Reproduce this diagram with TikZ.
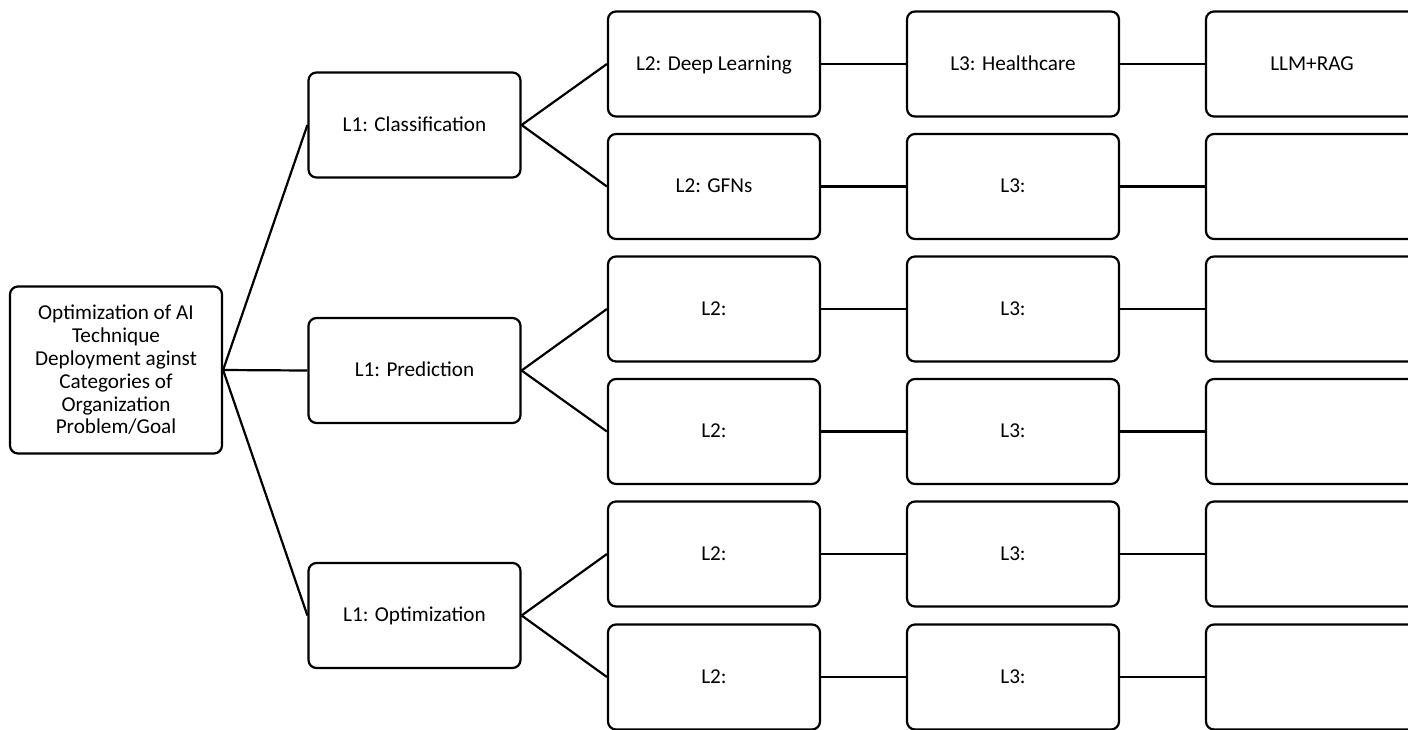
\documentclass[tikz,border=0pt]{standalone}
\usepackage{fontspec}
\setmainfont{Carlito}
\begin{document}
\begin{tikzpicture}[x=0.5pt,y=-0.5pt,
  box/.style={draw=black, line width=1.1pt, rounded corners=4pt, fill=white,
    minimum width=106pt, minimum height=52.5pt, inner sep=2pt, align=center,
    text height=0.64em, text depth=0pt,
    font=\fontsize{10.6pt}{11.4pt}\selectfont},
  rootbox/.style={draw=black, line width=1.1pt, rounded corners=4pt, fill=white,
    minimum width=106pt, minimum height=83.5pt, inner sep=2pt, align=center,
    font=\fontsize{10.6pt}{11.4pt}\selectfont},
  link/.style={draw=black, line width=1.1pt}]
\useasboundingbox (0,0) rectangle (1408,729);
\clip (0,0) rectangle (1408,729);
% root
\node[rootbox] (root) at (116,370) {Optimization of AI\\ Technique\\ Deployment aginst\\ Categories of\\ Organization\\ Problem/Goal};
% L1
\node[box] (c1) at (414.5,125) {L1: Classification};
\node[box] (c2) at (414.5,370.5) {L1: Prediction};
\node[box] (c3) at (414.5,615.5) {L1: Optimization};
% L2
\node[box] (a1) at (714,64) {L2: Deep Learning};
\node[box] (a2) at (714,186.5) {L2: GFNs};
\node[box] (a3) at (714,309) {L2:};
\node[box] (a4) at (714,431.5) {L2:};
\node[box] (a5) at (714,554) {L2:};
\node[box] (a6) at (714,677) {L2:};
% L3
\node[box] (b1) at (1013,64) {L3: Healthcare};
\node[box] (b2) at (1013,186.5) {L3:};
\node[box] (b3) at (1013,309) {L3:};
\node[box] (b4) at (1013,431.5) {L3:};
\node[box] (b5) at (1013,554) {L3:};
\node[box] (b6) at (1013,677) {L3:};
% last column
\node[box] (d1) at (1312,64) {LLM+RAG};
\node[box] (d2) at (1312,186.5) {};
\node[box] (d3) at (1312,309) {};
\node[box] (d4) at (1312,431.5) {};
\node[box] (d5) at (1312,554) {};
\node[box] (d6) at (1312,677) {};
% connectors
\foreach \c in {c1,c2,c3} \draw[link] (root.east) -- (\c.west);
\draw[link] (c1.east) -- (a1.west);
\draw[link] (c1.east) -- (a2.west);
\draw[link] (c2.east) -- (a3.west);
\draw[link] (c2.east) -- (a4.west);
\draw[link] (c3.east) -- (a5.west);
\draw[link] (c3.east) -- (a6.west);
\foreach \i in {1,...,6} {
  \draw[link] (a\i.east) -- (b\i.west);
  \draw[link] (b\i.east) -- (d\i.west);
}
\end{tikzpicture}
\end{document}
